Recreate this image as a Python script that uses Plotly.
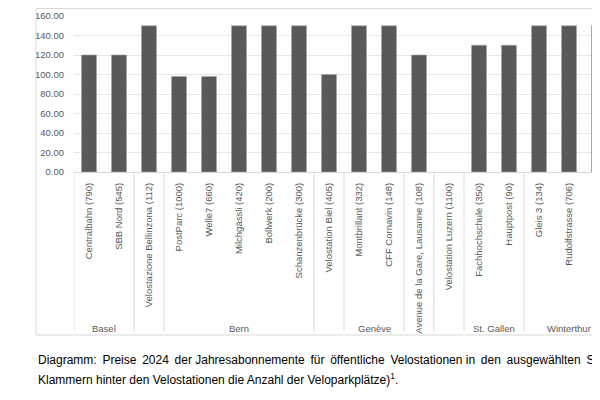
import plotly.graph_objects as go

# Velostationen (Anzahl Veloparkplätze) und Preise 2024 der Jahresabos
stations = [
    "Centralbahn (790)", "SBB Nord (545)", "Velostazione Bellinzona (112)",
    "PostParc (1000)", "Welle7 (660)", "Milchgässli (420)", "Bollwerk (200)",
    "Schanzenbrücke (300)", "Velostation Biel (405)", "Montbrillant (332)",
    "CFF Cornavin (148)", "Avenue de la Gare, Lausanne (108)",
    "Velostation Luzern (1100)", "Fachhochschule (350)", "Hauptpost (90)",
    "Gleis 3 (134)", "Rudolfstrasse (706)", "Stellwerk (708)",
]
prices = [120, 120, 150, 98, 98, 150, 150, 150, 100, 150, 150, 120,
          None, 130, 130, 150, 150, 150]
# Staedte: Name und Anzahl Stationen (leer = keine Gruppe)
cities = ["Basel", "", "Bern", "", "Genève", "", "", "St. Gallen", "Winterthur"]
city_sizes = [2, 1, 5, 1, 2, 1, 1, 2, 3]

caption_1 = ("Diagramm: Preise 2024 der Jahresabonnemente für öffentliche "
             "Velostationen in den ausgewählten St")
caption_2 = ("Klammern hinter den Velostationen die Anzahl der "
             "Veloparkplätze)<sup>1</sup>.")

grey = "#595959"
fnt = "Liberation Sans, Arial, sans-serif"

fig = go.Figure()
fig.add_trace(go.Bar(
    x=stations, y=prices, width=0.5,
    marker=dict(color=grey, line=dict(color="#a6a6a6", width=0.6)),
))

shapes = []
annotations = []
plot_w = 526
plot_h = 156  # pixel height of the plot area

# Rahmen um das Diagramm
shapes.append(dict(type="rect", xref="paper", yref="paper",
                   x0=-38 / plot_w, x1=1.1, y0=-163 / plot_h,
                   y1=163.5 / plot_h,
                   line=dict(color="#d9d9d9", width=1)))

# Trennlinien und Gruppenbeschriftung
start = 0
edges = [-0.5]
for name, size in zip(cities, city_sizes):
    end = start + size
    edges.append(end - 0.5)
    if name:
        annotations.append(dict(x=(start + end - 1) / 2, y=0, xref="x",
                                yref="paper", yshift=-156, text=name,
                                showarrow=False, yanchor="middle",
                                font=dict(size=9.5, color=grey, family=fnt)))
    start = end
for e in edges:
    shapes.append(dict(type="line", xref="x", yref="paper", x0=e, x1=e,
                       y0=0, y1=-160 / plot_h,
                       line=dict(color="#d9d9d9", width=1)))

# Blocksatz der ersten Zeile grob nachbilden
words = caption_1.split(" ")
line_1 = words[0]
for i, w in enumerate(words[1:]):
    line_1 += (" \u2009" if i % 4 != 3 else " ") + w
annotations.append(dict(x=-38 / plot_w, y=0, xref="paper", yref="paper",
                        yshift=-188, text=line_1, showarrow=False,
                        xanchor="left", yanchor="middle",
                        font=dict(size=12, color="black", family=fnt)))
annotations.append(dict(x=-38 / plot_w, y=0, xref="paper", yref="paper",
                        yshift=-207, text=caption_2, showarrow=False,
                        xanchor="left", yanchor="middle",
                        font=dict(size=12, color="black", family=fnt)))

# Die Seite hat 8px Rand, daher 592x384 und kleinere Ränder
fig.update_layout(
    width=592, height=384,
    margin=dict(l=66, r=0, t=8, b=220),
    plot_bgcolor="white", paper_bgcolor="white",
    showlegend=False,
    shapes=shapes, annotations=annotations,
    font=dict(family=fnt, size=9.5, color=grey),
    xaxis=dict(range=[-0.5, 17.033], tickangle=-90, showgrid=False,
               automargin=False,
               showline=True, linecolor="#d9d9d9", ticks="outside",
               ticklen=6, tickcolor="rgba(0,0,0,0)",
               tickfont=dict(size=9.5, color=grey)),
    yaxis=dict(range=[0, 160], dtick=20, tickformat=".2f",
               automargin=False,
               gridcolor="#e6e6e6", zeroline=False, ticks="outside",
               ticklen=7, tickcolor="rgba(0,0,0,0)",
               tickfont=dict(size=9.5, color=grey)),
)

fig.write_html("out.html")
